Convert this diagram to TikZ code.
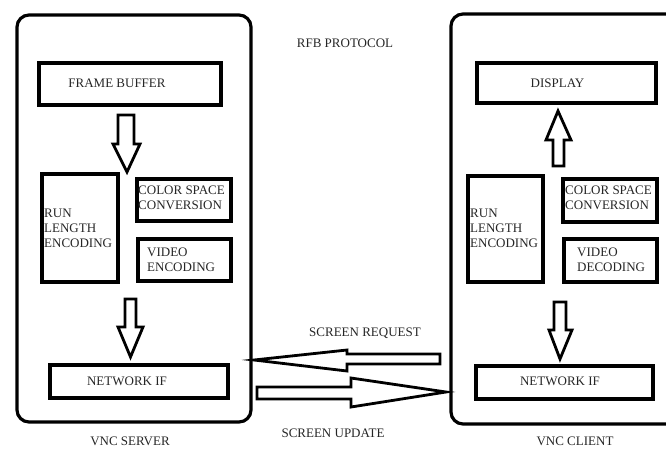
\documentclass[tikz,border=0pt]{standalone}
\usepackage{fontspec}
\setmainfont{Liberation Serif}
\begin{document}
\begin{tikzpicture}[x=1pt,y=-1pt,
    container/.style={draw=black,line width=3.2pt,rounded corners=12pt},
    unit/.style={draw=black,line width=3.4pt,rectangle,inner sep=0pt},
    lbl/.style={text=black!85,font=\fontsize{13}{14.8}\selectfont,inner sep=0pt},
    lbll/.style={lbl,align=left,anchor=west},
    blockarrow/.style={draw=black,fill=white,line width=2.8pt,line join=miter}]
  \useasboundingbox (0,0) rectangle (666,448);
  \clip (0,0) rectangle (666,448);

  % outer containers
  \draw[container] (17,15) rectangle (251,422);
  \draw[container] (451,14) rectangle (690,424);

  % server units
  \node[unit,minimum width=182pt,minimum height=42pt] (fb) at (130,84) {};
  \node[unit,minimum width=76pt,minimum height=108pt] (rles) at (80,228) {};
  \node[unit,minimum width=94pt,minimum height=42pt] (css) at (184,200) {};
  \node[unit,minimum width=93pt,minimum height=42pt] (ve) at (184.5,260) {};
  \node[unit,minimum width=178pt,minimum height=33pt] (nifs) at (139,381.5) {};

  % client units
  \node[unit,minimum width=179pt,minimum height=40pt] (disp) at (566.5,83) {};
  \node[unit,minimum width=75pt,minimum height=106pt] (rlec) at (505.5,229) {};
  \node[unit,minimum width=94pt,minimum height=43pt] (csc) at (610,200.5) {};
  \node[unit,minimum width=93pt,minimum height=43pt] (vd) at (610.5,260.5) {};
  \node[unit,minimum width=177pt,minimum height=33pt] (nifc) at (564.5,382.5) {};

  % labels
  \node[lbl] (tfb) at (117,83) {FRAME BUFFER};
  \node[lbll] (trles) at (44,228) {RUN\\LENGTH\\ENCODING};
  \node[lbll] (tcss) at (138,198) {COLOR SPACE\\CONVERSION};
  \node[lbll] (tve) at (147,259.5) {VIDEO\\ENCODING};
  \node[lbl] (tnifs) at (127,381) {NETWORK IF};
  \node[lbl] (tdisp) at (557.5,83) {DISPLAY};
  \node[lbll] (trlec) at (470,228) {RUN\\LENGTH\\ENCODING};
  \node[lbll] (tcsc) at (565,198) {COLOR SPACE\\CONVERSION};
  \node[lbll] (tvd) at (577,259.5) {VIDEO\\DECODING};
  \node[lbl] (tnifc) at (560,381) {NETWORK IF};
  \node[lbl] (trfb) at (345,43) {RFB PROTOCOL};
  \node[lbl] (treq) at (365,333) {SCREEN REQUEST};
  \node[lbl] (tupd) at (333,433) {SCREEN UPDATE};
  \node[lbl] (tsrv) at (130,441) {VNC SERVER};
  \node[lbl] (tcli) at (575,441) {VNC CLIENT};

  % block arrows inside the server
  \draw[blockarrow] (118,115) -- (134,115) -- (134,144) -- (140,144)
    -- (127,172) -- (113,144) -- (118,144) -- cycle;
  \draw[blockarrow] (125,299) -- (136,299) -- (136,327) -- (143,327)
    -- (130.5,357) -- (118,327) -- (125,327) -- cycle;

  % block arrows inside the client
  \draw[blockarrow] (553,166) -- (564,166) -- (564,140) -- (571,140)
    -- (558,111) -- (546,140) -- (553,140) -- cycle;
  \draw[blockarrow] (554,302) -- (566,302) -- (566,330) -- (572,330)
    -- (560,359) -- (549,330) -- (554,330) -- cycle;

  % protocol messages between client and server
  \draw[blockarrow] (440,354) -- (347,354) -- (347,350) -- (254,360)
    -- (347,371) -- (347,364) -- (440,364) -- cycle;
  \draw[blockarrow] (257,387) -- (351,387) -- (351,378) -- (446,392)
    -- (351,407) -- (351,399) -- (257,399) -- cycle;
\end{tikzpicture}
\end{document}
